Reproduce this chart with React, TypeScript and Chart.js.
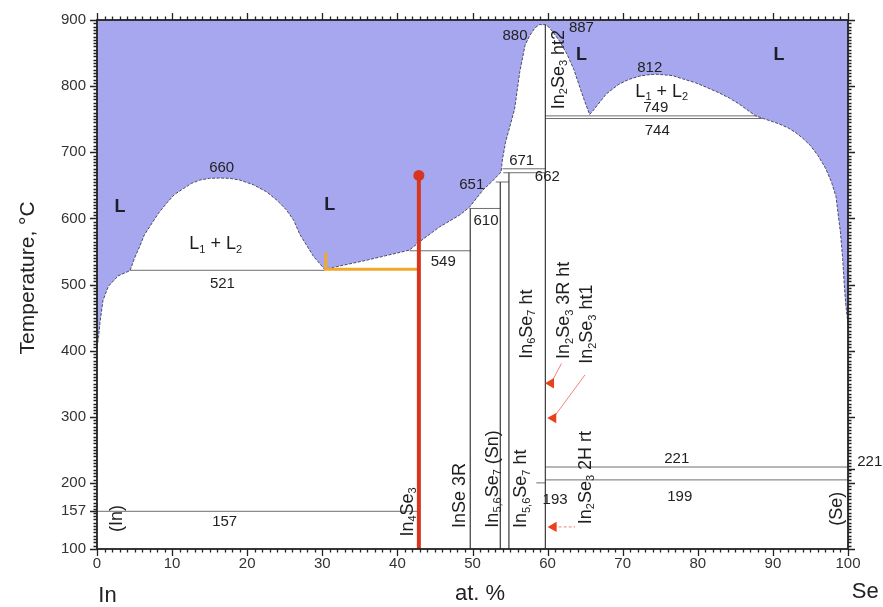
import React, { useEffect, useRef } from 'react';
import { Chart, registerables } from 'chart.js';
Chart.register(...registerables);

const FONT = '"Liberation Sans", Arial, Helvetica, sans-serif';

// Liquidus (boundary of the L field), composition at.% Se vs temperature
const liquidusX = [0, 0.2, 0.4, 0.8, 1.5, 2.8, 4.4, 5.0, 5.7, 6.3, 7.05, 8.2, 9.27, 10.3, 11.5, 12.6, 13.7, 15.0, 16.4, 17.7, 19.0, 20.8, 22.6, 24.0, 25.2, 26.2, 27.0, 28.8, 30.3,
  36.0, 41.6, 43.0, 45.6, 48.3, 49.6, 51.4, 52.7, 53.8, 54.0, 54.4, 55.0, 55.6, 56.3, 57.0, 57.6, 58.3, 58.9, 59.7,
  60.2, 60.7, 61.6, 62.6, 63.5, 64.3, 65.0, 65.6, 66.2, 67.8, 69.5, 70.8, 72.2, 73.3, 74.4, 76.6, 78.0, 79.7, 81.2, 82.8, 84.2, 85.5, 86.7, 87.7,
  90.8, 92.0, 93.0, 94.0, 95.0, 96.0, 97.0, 97.8, 98.4, 99.0, 99.3, 99.5, 99.7, 100];
const liquidusT = [405, 420, 443, 476, 497, 513, 521, 540, 558, 575, 588, 608, 623, 636, 645, 653, 658, 660.5, 661, 660.5, 658, 651, 640, 627, 613, 597, 576, 543, 523,
  537, 552, 565, 587, 605, 617, 643, 657, 670, 690, 715, 740, 765, 822, 862, 876, 888, 893, 893,
  889, 882, 868, 848, 825, 798, 775, 757, 765, 788, 803, 810, 815, 817, 818, 816, 811, 805, 798, 790, 782, 773, 763, 755,
  743, 737, 730, 721, 710, 695, 676, 655, 633, 578, 538, 500, 470, 440];

// Horizontal invariant lines: [x from, x to, temperature]
const tieLines: [number, number, number][] = [
  [0, 42.86, 157],
  [4.4, 30.3, 521.5],
  [41.6, 49.7, 551],
  [49.6, 53.7, 615],
  [53.1, 54.85, 655],
  [54.0, 59.7, 675],
  [54.1, 59.7, 669],
  [59.7, 87.9, 755],
  [59.7, 88.6, 751],
  [59.7, 100, 224],
  [59.7, 100, 204.5],
  [58.5, 59.7, 200],
];

// Vertical compound lines: [x, T bottom, T top]
const compoundLines: [number, number, number][] = [
  [42.86, 100, 551],
  [49.7, 100, 615],
  [53.7, 100, 655],
  [54.85, 100, 669],
  [59.7, 100, 893],
];

// Red alloy line (In4Se3) and orange construction
const redX = [42.86, 42.86];
const redT = [100, 665];
const orangeX = [30.45, 30.45, 42.86];
const orangeT = [548, 523, 523];

// Red arrows pointing to In2Se3 transitions
const arrowX = [60.45, 60.75, 60.8];
const arrowT = [350.6, 298, 133.4];
const arrowEndX = [61.85, 64.97, 63.65];
const arrowEndT = [380.6, 363.3, 133.4];

// Tick values
const xTickValues = [0, 10, 20, 30, 40, 50, 60, 70, 80, 90, 100];
const yTickValues = [100, 157, 200, 300, 400, 500, 600, 700, 800, 900];

// Text annotations: [text, x, T, kind]
const annotations: [string, number, number, string][] = [
  ['L', 3.06, 619, 'L'],
  ['L', 31.0, 623, 'L'],
  ['L', 64.5, 850, 'L'],
  ['L', 90.8, 850, 'L'],
  ['L_{1} + L_{2}', 15.8, 563, 'phase'],
  ['L_{1} + L_{2}', 75.2, 794, 'phase'],
  ['660', 16.6, 679, 'num'],
  ['521', 16.7, 503, 'num'],
  ['549', 46.1, 535.5, 'num'],
  ['610', 51.8, 598, 'num'],
  ['651', 49.9, 653, 'num'],
  ['671', 56.55, 689, 'num'],
  ['662', 59.96, 664, 'num'],
  ['880', 55.66, 877.5, 'num'],
  ['887', 64.5, 890, 'num'],
  ['812', 73.6, 830, 'num'],
  ['749', 74.4, 768.6, 'num'],
  ['744', 74.6, 734, 'num'],
  ['221', 77.2, 238, 'num'],
  ['199', 77.6, 181, 'num'],
  ['193', 61.0, 176, 'num'],
  ['157', 17.0, 143.5, 'num'],
  ['221', 102.9, 233, 'num'],
  ['(In)', 2.4, 146, 'vert'],
  ['(Se)', 98.3, 161, 'vert'],
  ['In_{4}Se_{3}', 41.2, 156, 'vert'],
  ['InSe 3R', 48.1, 181, 'vert'],
  ['In_{5,6}Se_{7} (Sn)', 52.5, 206, 'vert'],
  ['In_{5,6}Se_{7} ht', 56.3, 191, 'vert'],
  ['In_{6}Se_{7} ht', 57.0, 440, 'vert'],
  ['In_{2}Se_{3} 3R ht', 62.05, 461, 'vert'],
  ['In_{2}Se_{3} ht1', 65.1, 440, 'vert'],
  ['In_{2}Se_{3} 2H rt', 64.85, 208, 'vert'],
  ['In_{2}Se_{3} ht2', 61.3, 825, 'vert'],
];

const styles: Record<string, { size: number; bold: boolean; vertical: boolean; color: string }> = {
  L: { size: 18, bold: true, vertical: false, color: '#1e1e2a' },
  phase: { size: 18, bold: false, vertical: false, color: '#1e1e1e' },
  num: { size: 15, bold: false, vertical: false, color: '#222' },
  vert: { size: 18, bold: false, vertical: true, color: '#1e1e1e' },
};

function parseRich(s: string) {
  const parts: { t: string; sub: boolean }[] = [];
  let buf = '';
  let i = 0;
  while (i < s.length) {
    if (s[i] === '_' && s[i + 1] === '{') {
      if (buf) { parts.push({ t: buf, sub: false }); buf = ''; }
      const j = s.indexOf('}', i);
      parts.push({ t: s.slice(i + 2, j), sub: true });
      i = j + 1;
    } else {
      buf += s[i];
      i++;
    }
  }
  if (buf) parts.push({ t: buf, sub: false });
  return parts;
}

function drawRich(ctx: CanvasRenderingContext2D, s: string, cx: number, cy: number, size: number, vertical: boolean, bold: boolean, color: string) {
  const parts = parseRich(s);
  const subSize = Math.round(size * 0.62);
  const fontFor = (p: { sub: boolean }) => `${bold ? 'bold ' : ''}${p.sub ? subSize : size}px ${FONT}`;
  const widths = parts.map((p) => { ctx.font = fontFor(p); return ctx.measureText(p.t).width; });
  const total = widths.reduce((a, b) => a + b, 0);
  ctx.save();
  ctx.translate(cx, cy);
  if (vertical) ctx.rotate(-Math.PI / 2);
  ctx.fillStyle = color;
  ctx.textBaseline = 'alphabetic';
  ctx.textAlign = 'left';
  let xx = -total / 2;
  const base = size * 0.36;
  parts.forEach((p, i) => {
    ctx.font = fontFor(p);
    ctx.fillText(p.t, xx, p.sub ? base + size * 0.2 : base);
    xx += widths[i];
  });
  ctx.restore();
}

const textPlugin = {
  id: 'phaseText',
  afterDatasetsDraw(chart: any) {
    const { ctx, scales } = chart;
    const xs = scales.x;
    const ys = scales.y;
    annotations.forEach(([t, x, T, kind]) => {
      const st = styles[kind];
      drawRich(ctx, t, xs.getPixelForValue(x), ys.getPixelForValue(T), st.size, st.vertical, st.bold, st.color);
    });
    const ca = chart.chartArea;
    drawRich(ctx, 'Temperature, °C', ca.left - 71, ys.getPixelForValue(510), 21, true, false, '#222');
    drawRich(ctx, 'In', xs.getPixelForValue(1.4), ca.bottom + 45, 22, false, false, '#222');
    drawRich(ctx, 'at. %', xs.getPixelForValue(51), ca.bottom + 43, 22, false, false, '#222');
    drawRich(ctx, 'Se', xs.getPixelForValue(102.3), ca.bottom + 41, 22, false, false, '#222');
  },
};

const framePlugin = {
  id: 'frameTicks',
  afterDraw(chart: any) {
    const { ctx, chartArea, scales } = chart;
    const { left, right, top, bottom } = chartArea;
    const xs = scales.x;
    const ys = scales.y;
    ctx.save();
    ctx.strokeStyle = '#222';
    ctx.lineWidth = 1.3;
    ctx.beginPath();
    for (let v = 0; v <= 100; v++) {
      const px = Math.round(xs.getPixelForValue(v)) + 0.5;
      const len = v % 10 === 0 ? 7 : 3.5;
      ctx.moveTo(px, bottom); ctx.lineTo(px, bottom + len);
      ctx.moveTo(px, top); ctx.lineTo(px, top - len);
    }
    for (let v = 100; v <= 900; v += 5) {
      const py = Math.round(ys.getPixelForValue(v)) + 0.5;
      const len = v % 100 === 0 ? 7 : 3.5;
      ctx.moveTo(left, py); ctx.lineTo(left - len, py);
      ctx.moveTo(right, py); ctx.lineTo(right + len, py);
    }
    const p157 = Math.round(ys.getPixelForValue(157)) + 0.5;
    ctx.moveTo(left, p157); ctx.lineTo(left - 7, p157);
    const p221 = Math.round(ys.getPixelForValue(221)) + 0.5;
    ctx.moveTo(right, p221); ctx.lineTo(right + 7, p221);
    ctx.stroke();
    ctx.lineWidth = 1.8;
    ctx.strokeRect(left, top, right - left, bottom - top);
    ctx.restore();
  },
};

export default function App() {
  const ref = useRef<HTMLCanvasElement | null>(null);
  useEffect(() => {
    if (!ref.current) return;
    const datasets: any[] = [];
    datasets.push({
      data: redX.map((x, i) => ({ x, y: redT[i] })),
      borderColor: '#d8351f', borderWidth: 4,
      pointRadius: [0, 5.5], pointBackgroundColor: '#d8351f', pointBorderWidth: 0,
      order: 1,
    });
    datasets.push({
      data: orangeX.map((x, i) => ({ x, y: orangeT[i] })),
      borderColor: '#f3a82c', borderWidth: 3, pointRadius: 0, order: 2,
    });
    arrowX.forEach((x, i) => {
      datasets.push({
        data: [{ x, y: arrowT[i] }, { x: arrowEndX[i], y: arrowEndT[i] }],
        borderColor: '#f2807a', borderWidth: 1, borderDash: i === 2 ? [3, 2] : [],
        pointRadius: [6, 0], pointStyle: 'triangle', pointRotation: 270,
        pointBackgroundColor: '#e8411b', pointBorderColor: '#e8411b', pointBorderWidth: 0,
        order: 3,
      });
    });
    compoundLines.forEach(([x, t1, t2]) => {
      datasets.push({
        data: [{ x, y: t1 }, { x, y: t2 }],
        borderColor: '#3a3a3a', borderWidth: 1.2, pointRadius: 0, order: 5,
      });
    });
    tieLines.forEach(([x1, x2, t]) => {
      datasets.push({
        data: [{ x: x1, y: t }, { x: x2, y: t }],
        borderColor: '#6e6e6e', borderWidth: 1, pointRadius: 0, order: 6,
      });
    });
    datasets.push({
      data: liquidusX.map((x, i) => ({ x, y: liquidusT[i] })),
      borderColor: '#4a4a66', borderWidth: 1, borderDash: [3, 1.5],
      backgroundColor: '#a7a7ef', fill: 'end', pointRadius: 0, tension: 0,
      order: 20,
    });

    const chart = new Chart(ref.current, {
      type: 'line',
      data: { datasets },
      options: {
        responsive: false,
        animation: false,
        layout: { padding: { top: 15, right: 35, left: 0, bottom: 0 } },
        plugins: { legend: { display: false }, tooltip: { enabled: false } },
        scales: {
          x: {
            type: 'linear', min: 0, max: 100,
            grid: { display: false, drawTicks: false },
            border: { display: false },
            ticks: { padding: 6, font: { family: FONT, size: 15 }, color: '#333', maxRotation: 0, autoSkip: false },
            afterBuildTicks: (s: any) => { s.ticks = xTickValues.map((v) => ({ value: v })); },
            afterFit: (s: any) => { s.height = 58; },
          },
          y: {
            type: 'linear', min: 100, max: 900,
            grid: { display: false, drawTicks: false },
            border: { display: false },
            ticks: { padding: 11, font: { family: FONT, size: 15 }, color: '#333', autoSkip: false },
            afterBuildTicks: (s: any) => { s.ticks = yTickValues.map((v) => ({ value: v })); },
            afterFit: (s: any) => { s.width = 97; },
          },
        },
      },
      plugins: [textPlugin, framePlugin],
    } as any);
    return () => chart.destroy();
  }, []);
  return (
    <div style={{ position: 'fixed', left: 0, top: 0, width: 883, height: 607, background: '#fff' }}>
      <canvas ref={ref} width={883} height={607} />
    </div>
  );
}
